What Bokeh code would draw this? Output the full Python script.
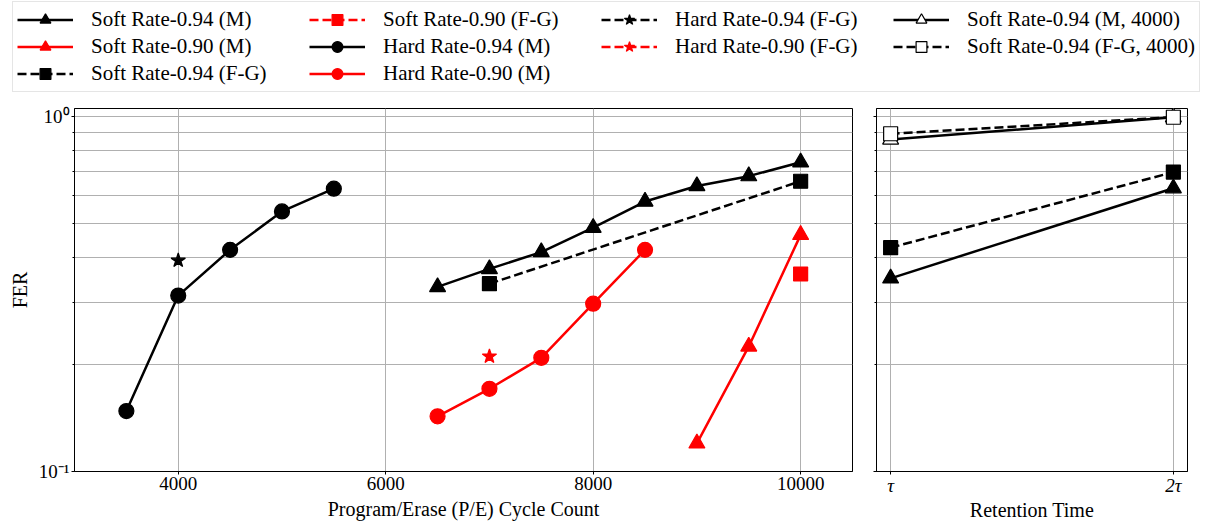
from bokeh.plotting import figure
from bokeh.layouts import column, row
from bokeh.models import (ColumnDataSource, Range1d, FixedTicker, Legend, LegendItem,
                          CustomJSTickFormatter)
from bokeh.embed import file_html
from bokeh.resources import INLINE

# ---------------- data ----------------
# P/E cycle panel
pe_soft94_m = [6500, 7000, 7500, 8000, 8500, 9000, 9500, 10000]
fer_soft94_m = [0.331, 0.372, 0.415, 0.486, 0.576, 0.637, 0.679, 0.743]
pe_soft90_m = [9000, 9500, 10000]
fer_soft90_m = [0.120, 0.225, 0.464]
pe_soft94_fg = [7000, 10000]
fer_soft94_fg = [0.338, 0.657]
pe_soft90_fg = [10000]
fer_soft90_fg = [0.360]
pe_hard94_m = [3500, 4000, 4500, 5000, 5500]
fer_hard94_m = [0.148, 0.313, 0.421, 0.540, 0.626]
pe_hard90_m = [6500, 7000, 7500, 8000, 8500]
fer_hard90_m = [0.143, 0.171, 0.209, 0.297, 0.421]
pe_hard94_fg = [4000]
fer_hard94_fg = [0.393]
pe_hard90_fg = [7000]
fer_hard90_fg = [0.211]

# Retention panel (1 = tau, 2 = 2 tau)
ret = [1, 2]
ret_labels = ["τ", "2τ"]
fer_ret_soft94_m = [0.350, 0.628]
fer_ret_soft94_fg = [0.427, 0.697]
fer_ret_soft94_m_4000 = [0.861, 0.995]
fer_ret_soft94_fg_4000 = [0.894, 0.995]

pe_ticks = [4000, 6000, 8000, 10000]
fer_major = [0.1, 1.0]
fer_minor = [0.2, 0.3, 0.4, 0.5, 0.6, 0.7, 0.8, 0.9]

FONT = "Liberation Serif"
GRID = "#b0b0b0"
LW = 2.5
DASH = "9 4"

Y0, Y1 = 0.1, 1.053


def style_fig(p):
    p.outline_line_color = "black"
    p.outline_line_width = 1
    p.background_fill_color = "white"
    p.border_fill_color = "white"
    for ax in p.axis:
        ax.axis_line_color = "black"
        ax.major_tick_line_color = "black"
        ax.minor_tick_line_color = "black"
        ax.major_tick_in = 0
        ax.major_tick_out = 3
        ax.minor_tick_in = 0
        ax.minor_tick_out = 2
        ax.major_label_standoff = 2
        ax.axis_label_standoff = 5
        ax.major_label_text_font = FONT
        ax.major_label_text_font_size = "19px"
        ax.major_label_text_color = "black"
        ax.axis_label_text_font = FONT
        ax.axis_label_text_font_size = "20px"
        ax.axis_label_text_font_style = "normal"
        ax.axis_label_text_color = "black"
    p.xgrid.grid_line_color = GRID
    p.ygrid.grid_line_color = GRID
    p.ygrid.minor_grid_line_color = GRID
    p.xgrid.grid_line_width = 1
    p.ygrid.grid_line_width = 1
    p.ygrid.minor_grid_line_width = 1


def add_series(p, x, y, color, marker, dashed=False, fill=None, size=15):
    src = ColumnDataSource(dict(x=x, y=y))
    p.line("x", "y", source=src, line_color=color, line_width=LW,
           line_dash=DASH if dashed else "solid")
    p.scatter("x", "y", source=src, marker=marker, size=size,
              line_color=color, fill_color=fill if fill else color, line_width=1.2)


y_ticker = FixedTicker(ticks=fer_major, minor_ticks=fer_minor)
yfmt = CustomJSTickFormatter(code="return tick < 0.5 ? '10\u207b\u00b9' : '10\u2070';")

# ---------------- left panel ----------------
left = figure(frame_width=778, frame_height=363, y_axis_type="log",
              x_range=Range1d(3000, 10500), y_range=Range1d(Y0, Y1),
              toolbar_location=None, output_backend="svg",
              min_border_left=74, min_border_right=10, min_border_top=10,
              min_border_bottom=40)
left.xaxis.ticker = FixedTicker(ticks=pe_ticks)
left.yaxis.ticker = y_ticker
left.yaxis.formatter = yfmt
left.xgrid.ticker = FixedTicker(ticks=pe_ticks)
left.ygrid.ticker = y_ticker
left.xaxis.axis_label = "Program/Erase (P/E) Cycle Count"
left.yaxis.axis_label = "FER"
style_fig(left)

add_series(left, pe_soft94_m, fer_soft94_m, "black", "triangle", size=16)
add_series(left, pe_soft90_m, fer_soft90_m, "red", "triangle", size=16)
add_series(left, pe_soft94_fg, fer_soft94_fg, "black", "square", dashed=True, size=14)
add_series(left, pe_soft90_fg, fer_soft90_fg, "red", "square", dashed=True, size=14)
add_series(left, pe_hard94_m, fer_hard94_m, "black", "circle", size=15)
add_series(left, pe_hard90_m, fer_hard90_m, "red", "circle", size=15)
add_series(left, pe_hard94_fg, fer_hard94_fg, "black", "star", dashed=True, size=15)
add_series(left, pe_hard90_fg, fer_hard90_fg, "red", "star", dashed=True, size=15)

# ---------------- right panel ----------------
right = figure(frame_width=311, frame_height=363, y_axis_type="log",
               x_range=Range1d(0.95, 2.05), y_range=Range1d(Y0, Y1),
               toolbar_location=None, output_backend="svg",
               min_border_left=14, min_border_right=14, min_border_top=10,
               min_border_bottom=40)
right.xaxis.ticker = FixedTicker(ticks=ret)
right.xaxis.formatter = CustomJSTickFormatter(
    args=dict(labels=ret_labels), code="return labels[Math.round(tick) - 1];")
right.xgrid.ticker = FixedTicker(ticks=ret)
right.yaxis.ticker = y_ticker
right.yaxis.formatter = CustomJSTickFormatter(code="return '';")
right.ygrid.ticker = y_ticker
right.xaxis.axis_label = "Retention Time"
style_fig(right)
right.yaxis.major_label_standoff = 0
right.xaxis.major_label_text_font_style = "italic"
right.xaxis.major_label_standoff = 0
right.xaxis.axis_label_standoff = 0

add_series(right, ret, fer_ret_soft94_m, "black", "triangle", size=16)
add_series(right, ret, fer_ret_soft94_fg, "black", "square", dashed=True, size=14)
add_series(right, ret, fer_ret_soft94_m_4000, "black", "triangle", fill="white", size=16)
add_series(right, ret, fer_ret_soft94_fg_4000, "black", "square", dashed=True, fill="white", size=14)

# ---------------- legend strip ----------------
leg = figure(width=1210, height=98, x_range=Range1d(0, 1), y_range=Range1d(0, 1),
             x_axis_location=None, y_axis_location=None, toolbar_location=None,
             output_backend="svg", min_border_left=12, min_border_right=0,
             min_border_top=1, min_border_bottom=0)
leg.outline_line_color = None
leg.xgrid.visible = False
leg.ygrid.visible = False

legend_spec = [
    ("Soft Rate-0.94 (M)", "black", "triangle", False, None),
    ("Soft Rate-0.90 (M)", "red", "triangle", False, None),
    ("Soft Rate-0.94 (F-G)", "black", "square", True, None),
    ("Soft Rate-0.90 (F-G)", "red", "square", True, None),
    ("Hard Rate-0.94 (M)", "black", "circle", False, None),
    ("Hard Rate-0.90 (M)", "red", "circle", False, None),
    ("Hard Rate-0.94 (F-G)", "black", "star", True, None),
    ("Hard Rate-0.90 (F-G)", "red", "star", True, None),
    None,
    ("Soft Rate-0.94 (M, 4000)", "black", "triangle", False, "white"),
    ("Soft Rate-0.94 (F-G, 4000)", "black", "square", True, "white"),
]
items = []
for spec in legend_spec:
    # legend-only renderers: a single point placed outside the visible range
    dummy = ColumnDataSource(dict(x=[-10.0], y=[-10.0]))
    if spec is None:
        r = leg.line("x", "y", source=dummy, line_alpha=0)
        items.append(LegendItem(label=" ", renderers=[r]))
        continue
    label, color, marker, dashed, fill = spec
    lr = leg.line("x", "y", source=dummy, line_color=color, line_width=LW,
                  line_dash=DASH if dashed else "solid")
    sr = leg.scatter("x", "y", source=dummy, marker=marker, size=12, line_color=color,
                     fill_color=fill if fill else color, line_width=1.2)
    items.append(LegendItem(label=label, renderers=[lr, sr]))

legend = Legend(items=items, location="top_left", nrows=3, orientation="vertical",
                glyph_width=56, glyph_height=27, label_height=27, label_width=218,
                label_standoff=18, spacing=0, padding=4, margin=0,
                label_text_font=FONT, label_text_font_size="21px",
                label_text_color="black", border_line_color="#cccccc",
                border_line_width=1, background_fill_color="white",
                background_fill_alpha=1)
leg.add_layout(legend, "center")

layout = column(leg, row(left, right))
open("out.html", "w").write(file_html(layout, INLINE))
